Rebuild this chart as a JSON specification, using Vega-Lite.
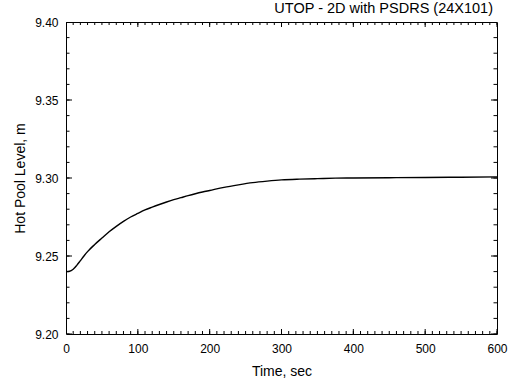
{
  "$schema": "https://vega.github.io/schema/vega-lite/v6.json",
  "width": 431,
  "height": 312,
  "autosize": {"type": "none"},
  "padding": {"left": 66, "top": 22, "right": 14, "bottom": 51},
  "title": {"text": "UTOP - 2D with PSDRS (24X101)", "anchor": "end", "frame": "group", "baseline": "alphabetic", "offset": -11, "dx": -4, "fontSize": 14.5, "fontWeight": "normal", "font": "Liberation Sans", "color": "black"},
  "datasets": {
    "curve": [
      {"t": 0, "v": 9.2400}, {"t": 5, "v": 9.2402}, {"t": 10, "v": 9.2415}, {"t": 15, "v": 9.2440},
      {"t": 20, "v": 9.2470}, {"t": 25, "v": 9.2500}, {"t": 30, "v": 9.2528}, {"t": 40, "v": 9.2574},
      {"t": 50, "v": 9.2615}, {"t": 60, "v": 9.2655}, {"t": 70, "v": 9.2690}, {"t": 80, "v": 9.2722},
      {"t": 90, "v": 9.2750}, {"t": 100, "v": 9.2773}, {"t": 110, "v": 9.2795}, {"t": 120, "v": 9.2813},
      {"t": 130, "v": 9.2830}, {"t": 140, "v": 9.2846}, {"t": 150, "v": 9.2861}, {"t": 160, "v": 9.2874},
      {"t": 170, "v": 9.2887}, {"t": 180, "v": 9.2899}, {"t": 190, "v": 9.2910}, {"t": 200, "v": 9.2920},
      {"t": 220, "v": 9.2940}, {"t": 240, "v": 9.2956}, {"t": 260, "v": 9.2970}, {"t": 280, "v": 9.2980},
      {"t": 300, "v": 9.2988}, {"t": 325, "v": 9.2993}, {"t": 350, "v": 9.2996}, {"t": 375, "v": 9.2999},
      {"t": 400, "v": 9.3000}, {"t": 450, "v": 9.3002}, {"t": 500, "v": 9.3003}, {"t": 550, "v": 9.3005},
      {"t": 600, "v": 9.3007}
    ],
    "xminor": [{"t":0},{"t":10},{"t":20},{"t":30},{"t":40},{"t":50},{"t":60},{"t":70},{"t":80},{"t":90},{"t":100},{"t":110},{"t":120},{"t":130},{"t":140},{"t":150},{"t":160},{"t":170},{"t":180},{"t":190},{"t":200},{"t":210},{"t":220},{"t":230},{"t":240},{"t":250},{"t":260},{"t":270},{"t":280},{"t":290},{"t":300},{"t":310},{"t":320},{"t":330},{"t":340},{"t":350},{"t":360},{"t":370},{"t":380},{"t":390},{"t":400},{"t":410},{"t":420},{"t":430},{"t":440},{"t":450},{"t":460},{"t":470},{"t":480},{"t":490},{"t":500},{"t":510},{"t":520},{"t":530},{"t":540},{"t":550},{"t":560},{"t":570},{"t":580},{"t":590},{"t":600}],
    "xmajor": [{"t":0},{"t":100},{"t":200},{"t":300},{"t":400},{"t":500},{"t":600}],
    "yminor": [{"v":9.20},{"v":9.21},{"v":9.22},{"v":9.23},{"v":9.24},{"v":9.25},{"v":9.26},{"v":9.27},{"v":9.28},{"v":9.29},{"v":9.30},{"v":9.31},{"v":9.32},{"v":9.33},{"v":9.34},{"v":9.35},{"v":9.36},{"v":9.37},{"v":9.38},{"v":9.39},{"v":9.40}],
    "ymajor": [{"v":9.20},{"v":9.25},{"v":9.30},{"v":9.35},{"v":9.40}]
  },
  "resolve": {"axis": {"x": "independent", "y": "independent"}},
  "layer": [
    {
      "data": {"name": "curve"},
      "mark": {"type": "line", "color": "black", "strokeWidth": 1.4, "interpolate": "monotone", "clip": true},
      "encoding": {
        "x": {"field": "t", "type": "quantitative", "scale": {"domain": [0, 600], "nice": false, "zero": false},
          "axis": {"orient": "bottom", "values": [0, 100, 200, 300, 400, 500, 600], "ticks": false, "domain": false, "grid": false,
            "labelPadding": 9, "labelFontSize": 12, "labelFlush": false, "labelOverlap": false, "labelColor": "black",
            "title": "Time, sec", "titleFontSize": 14, "titleFontWeight": "normal", "titleColor": "black", "titlePadding": 10}},
        "y": {"field": "v", "type": "quantitative", "scale": {"domain": [9.2, 9.4], "nice": false, "zero": false},
          "axis": {"orient": "left", "values": [9.2, 9.25, 9.3, 9.35, 9.4], "format": ".2f", "ticks": false, "domain": false, "grid": false,
            "labelPadding": 8, "labelFontSize": 12, "labelFlush": false, "labelOverlap": false, "labelColor": "black",
            "title": "Hot Pool Level, m", "titleFontSize": 14, "titleFontWeight": "normal", "titleColor": "black", "titlePadding": 7}}
      }
    },
    {
      "data": {"name": "xminor"},
      "mark": {"type": "tick", "orient": "vertical", "size": 6, "thickness": 1, "color": "black", "opacity": 1, "clip": true},
      "encoding": {
        "x": {"field": "t", "type": "quantitative", "scale": {"domain": [0, 600], "nice": false, "zero": false}, "axis": null},
        "y": {"datum": 9.2, "type": "quantitative", "scale": {"domain": [9.2, 9.4], "nice": false, "zero": false}, "axis": null}
      }
    },
    {
      "data": {"name": "xminor"},
      "mark": {"type": "tick", "orient": "vertical", "size": 6, "thickness": 1, "color": "black", "opacity": 1, "clip": true},
      "encoding": {
        "x": {"field": "t", "type": "quantitative", "scale": {"domain": [0, 600], "nice": false, "zero": false}, "axis": null},
        "y": {"datum": 9.4, "type": "quantitative", "scale": {"domain": [9.2, 9.4], "nice": false, "zero": false}, "axis": null}
      }
    },
    {
      "data": {"name": "xmajor"},
      "mark": {"type": "tick", "orient": "vertical", "size": 10, "thickness": 1, "color": "black", "opacity": 1, "clip": true},
      "encoding": {
        "x": {"field": "t", "type": "quantitative", "scale": {"domain": [0, 600], "nice": false, "zero": false}, "axis": null},
        "y": {"datum": 9.2, "type": "quantitative", "scale": {"domain": [9.2, 9.4], "nice": false, "zero": false}, "axis": null}
      }
    },
    {
      "data": {"name": "xmajor"},
      "mark": {"type": "tick", "orient": "vertical", "size": 10, "thickness": 1, "color": "black", "opacity": 1, "clip": true},
      "encoding": {
        "x": {"field": "t", "type": "quantitative", "scale": {"domain": [0, 600], "nice": false, "zero": false}, "axis": null},
        "y": {"datum": 9.4, "type": "quantitative", "scale": {"domain": [9.2, 9.4], "nice": false, "zero": false}, "axis": null}
      }
    },
    {
      "data": {"name": "yminor"},
      "mark": {"type": "tick", "orient": "horizontal", "size": 7, "thickness": 1, "color": "black", "opacity": 1, "clip": true},
      "encoding": {
        "y": {"field": "v", "type": "quantitative", "scale": {"domain": [9.2, 9.4], "nice": false, "zero": false}, "axis": null},
        "x": {"datum": 0, "type": "quantitative", "scale": {"domain": [0, 600], "nice": false, "zero": false}, "axis": null}
      }
    },
    {
      "data": {"name": "yminor"},
      "mark": {"type": "tick", "orient": "horizontal", "size": 7, "thickness": 1, "color": "black", "opacity": 1, "clip": true},
      "encoding": {
        "y": {"field": "v", "type": "quantitative", "scale": {"domain": [9.2, 9.4], "nice": false, "zero": false}, "axis": null},
        "x": {"datum": 600, "type": "quantitative", "scale": {"domain": [0, 600], "nice": false, "zero": false}, "axis": null}
      }
    },
    {
      "data": {"name": "ymajor"},
      "mark": {"type": "tick", "orient": "horizontal", "size": 12, "thickness": 1, "color": "black", "opacity": 1, "clip": true},
      "encoding": {
        "y": {"field": "v", "type": "quantitative", "scale": {"domain": [9.2, 9.4], "nice": false, "zero": false}, "axis": null},
        "x": {"datum": 0, "type": "quantitative", "scale": {"domain": [0, 600], "nice": false, "zero": false}, "axis": null}
      }
    },
    {
      "data": {"name": "ymajor"},
      "mark": {"type": "tick", "orient": "horizontal", "size": 12, "thickness": 1, "color": "black", "opacity": 1, "clip": true},
      "encoding": {
        "y": {"field": "v", "type": "quantitative", "scale": {"domain": [9.2, 9.4], "nice": false, "zero": false}, "axis": null},
        "x": {"datum": 600, "type": "quantitative", "scale": {"domain": [0, 600], "nice": false, "zero": false}, "axis": null}
      }
    }
  ],
  "config": {
    "font": "Liberation Sans",
    "view": {"stroke": "black", "strokeWidth": 1},
    "background": "white"
  }
}
